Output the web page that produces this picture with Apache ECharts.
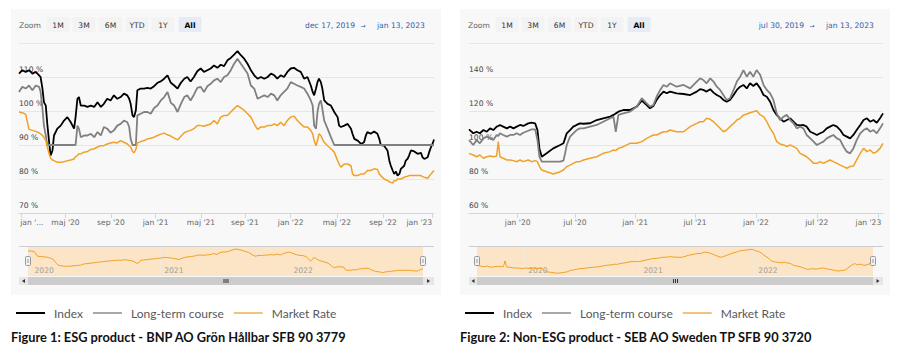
<!DOCTYPE html>
<html>
<head>
<meta charset="utf-8">
<title>ESG / Non-ESG</title>
<script src="https://cdn.jsdelivr.net/npm/echarts@6/dist/echarts.min.js"></script>
<style>
html, body { margin: 0; padding: 0; background: #fff; }
#chart { width: 900px; height: 353px; }
</style>
</head>
<body>
<div id="chart"></div>
<script>
// Figure 1 - BNP AO Grön Hållbar (x = days since 2019-12-17)
const esgDays = [8,17,26,35,44,53,62,66,71,75,80,84,89,93,98,102,111,120,129,138,147,156,160,165,169,174,183,192,201,210,219,228,236,245,254,263,272,281,290,299,304,308,313,317,322,326,335,344,353,362,371,380,389,398,407,416,425,434,443,452,460,469,478,487,496,505,514,523,532,541,550,559,
  568,577,586,595,604,613,622,631,640,649,658,667,676,685,694,702,711,720,729,738,747,756,765,774,783,792,797,801,806,810,814,819,823,828,837,846,855,864,868,873,882,891,900,904,909,918,927,935,940,944,953,962,971,976,980,989,998,1003,1007,1012,1016,1021,1025,1030,1034,1043,1047,1052,1056,1061,1070,1079,1088,1092,1097,1106,1110,1115,1119,1123];
const esgIndex = [111.0,112.0,111.5,112.0,111.0,111.5,110.5,110.0,106.6,102.6,
  101.6,96.2,90.8,86.9,88.4,92.8,94.8,95.7,97.2,98.2,
  96.7,94.8,98.2,103.6,104.1,101.6,101.6,101.2,101.6,101.2,
  102.6,101.2,102.1,103.6,103.1,104.6,103.6,104.1,105.1,104.6,
  103.6,102.1,98.7,98.2,100.2,106.1,106.6,106.6,106.8,106.6,
  107.3,108.3,108.7,109.5,110.5,108.3,107.5,106.6,108.3,109.5,
  110.0,108.7,110.0,111.7,112.5,111.5,112.0,112.5,113.4,112.7,
  113.6,113.2,
  114.9,115.6,116.6,117.6,116.4,115.4,113.9,112.0,110.5,109.5,
  110.0,109.5,110.0,111.0,110.5,109.5,110.5,110.0,111.5,112.5,
  112.7,112.0,111.5,109.5,110.0,107.5,105.6,104.6,106.6,108.5,
  109.5,108.5,106.6,103.1,102.1,101.6,99.7,98.2,95.7,95.3,
  95.7,96.2,94.8,93.3,91.8,91.3,90.3,90.8,92.8,93.8,
  93.3,94.0,93.3,91.8,90.0,89.8,88.4,85.4,83.9,82.5,
  81.5,82.2,81.0,81.5,83.0,83.9,85.4,85.9,86.9,88.4,
  88.1,87.4,87.7,86.4,85.9,86.4,87.9,89.4,90.3,91.6];
const esgLong = [105.6,107.1,106.6,107.5,106.1,107.5,107.1,105.6,100.7,95.7,
  92.8,90.0,90.0,90.0,90.0,90.0,90.0,90.0,90.0,90.0,
  90.0,90.0,90.0,95.7,94.8,92.3,92.8,92.8,93.3,92.3,
  93.8,92.8,95.3,94.8,93.6,94.3,95.7,96.2,97.2,96.7,
  95.3,91.8,90.0,90.0,90.0,98.7,99.2,99.7,99.7,99.2,
  100.9,101.6,103.1,104.1,105.6,102.4,101.6,99.7,102.1,104.1,
  104.6,103.1,104.8,106.8,107.1,105.6,107.3,108.0,109.0,109.5,
  108.5,110.0,
  110.5,112.0,113.9,115.4,113.9,112.5,111.0,107.5,106.6,103.6,
  104.1,104.6,104.1,105.1,104.6,103.1,104.6,105.6,106.6,108.5,
  108.0,107.5,107.1,106.6,105.1,103.1,101.6,95.7,94.8,99.7,
  102.1,103.1,100.7,97.2,94.8,92.3,90.0,90.0,90.0,90.0,
  90.0,90.0,90.0,90.0,90.0,90.0,90.0,90.0,90.0,90.0,
  90.0,90.0,90.0,90.0,90.0,90.0,90.0,90.0,90.0,90.0,
  90.0,90.0,90.0,90.0,90.0,90.0,90.0,90.0,90.0,90.0,
  90.0,90.0,90.0,90.0,90.0,90.0,90.0,90.0,90.0,90.0];
const esgMarket = [99.7,99.5,99.0,94.6,94.3,94.0,93.6,93.3,92.8,92.3,
  91.3,89.4,87.4,86.1,85.6,85.4,84.9,84.9,85.1,85.4,
  85.6,85.9,86.6,86.9,87.4,87.4,87.9,88.1,88.7,88.9,
  89.4,89.8,89.8,90.3,90.6,90.8,90.6,91.3,90.8,90.3,
  89.8,89.4,88.1,87.7,88.7,90.6,91.0,91.3,91.8,92.0,
  92.3,92.8,93.2,93.5,93.0,92.6,92.0,91.5,92.6,93.6,
  94.0,94.3,94.8,95.7,95.7,95.5,95.9,96.2,97.2,96.2,
  98.2,98.7,
  98.7,99.7,100.7,101.6,100.9,100.2,99.2,98.2,96.2,94.6,
  95.3,95.3,95.7,95.7,96.2,95.7,96.7,95.7,97.2,98.2,
  98.5,97.2,96.2,95.3,95.3,94.3,93.3,91.3,89.8,91.3,
  93.3,92.8,91.8,90.8,89.8,88.9,87.9,85.4,84.4,83.5,
  84.4,84.4,83.9,81.5,81.0,81.0,81.5,81.5,82.0,82.5,
  82.5,83.0,82.8,81.5,81.0,80.0,79.5,79.2,79.0,78.8,
  79.5,79.5,80.0,80.0,80.0,80.5,80.7,80.8,81.0,81.0,
  81.0,81.0,81.0,80.7,80.5,80.2,80.8,81.5,82.0,82.5];
const esgTickDays = [13,133,255,375,497,615,738,862,986,1117];
const esgTickLabels = ["jan '...", "maj '20", "sep '20", "jan '21", "maj '21", "sep '21", "jan '22", "maj '22", "sep '22", "jan '23"];
const esgYearDays = [15,381,746];
const esgYearLabels = ['2020','2021','2022'];

// Figure 2 - SEB AO Sweden TP (x = days since 2019-07-30)
const sebDays = [5,18,28,38,49,59,69,79,89,94,99,109,120,130,140,150,160,170,185,195,
  206,213,219,226,241,261,282,292,297,302,312,322,332,342,353,373,393,413,434,444,
  451,459,474,494,515,530,545,555,565,575,586,596,606,616,636,657,677,697,707,717,
  727,738,748,758,768,778,788,798,809,819,829,839,849,859,869,879,890,900,910,920,
  930,940,950,961,971,981,991,1001,1011,1021,1031,1042,1052,1062,1072,1082,1092,1102,1112,1123,
  1133,1143,1153,1163,1173,1183,1194,1204,1214,1224,1234,1244,1254,1263];
const sebIndex = [109.2,106.9,107.8,106.9,108.8,107.8,109.8,108.8,110.8,111.2,
  111.8,110.8,109.8,110.8,109.8,110.8,111.8,111.2,112.7,113.1,
  112.7,108.8,98.0,93.1,95.1,98.0,100.0,101.0,103.9,106.9,
  108.8,110.8,111.8,112.7,112.5,112.8,114.7,115.7,116.7,117.7,
  118.6,119.6,120.6,120.6,122.6,126.1,123.5,121.6,122.9,126.5,
  129.4,131.4,130.4,131.4,130.4,130.0,129.4,131.4,132.8,132.4,
  131.4,132.8,130.8,129.4,128.4,126.5,125.5,126.5,129.4,132.4,
  134.3,135.3,133.3,136.3,134.7,136.3,133.3,129.4,128.4,125.5,
  120.6,117.7,115.7,113.7,114.7,115.7,113.7,111.8,111.5,111.8,
  110.8,107.8,106.9,105.9,106.9,107.8,109.8,110.8,111.8,110.8,
  108.8,105.9,104.9,103.9,105.9,108.8,111.8,114.7,115.7,113.7,
  114.7,113.1,115.7,118.6];
const sebLong = [102.9,100.0,102.9,101.0,103.9,104.9,103.9,102.9,105.9,105.3,
  106.9,105.9,104.9,105.9,105.9,106.9,105.9,107.2,108.4,109.2,
  109.2,102.9,93.1,90.2,90.2,90.2,90.2,90.8,95.1,100.0,
  104.9,106.9,108.8,109.8,109.8,110.8,111.8,113.7,115.7,116.7,
  107.8,117.7,118.6,119.6,122.6,127.5,124.5,122.6,123.5,128.4,
  132.4,135.3,134.3,136.3,134.3,135.3,133.3,137.3,139.2,138.2,
  136.3,139.2,137.3,134.3,132.4,129.4,126.5,127.5,132.4,137.3,
  140.2,144.1,140.2,143.1,140.2,144.1,141.2,135.3,132.4,130.4,
  126.5,118.6,114.7,116.7,117.7,114.7,112.8,109.8,110.8,109.8,
  105.9,103.9,102.0,100.0,101.0,102.0,103.9,104.9,105.9,103.9,
  102.9,99.0,96.1,95.1,98.0,102.9,106.9,108.8,109.8,107.8,
  108.8,106.9,109.8,112.7];
const sebMarket = [95.1,94.1,93.1,94.1,92.2,93.1,93.5,93.1,93.5,102.0,
  93.1,92.2,91.2,91.2,90.8,90.2,91.2,90.2,91.2,90.2,
  90.8,90.2,87.3,85.3,84.3,82.9,84.3,85.3,86.3,87.3,
  88.2,89.2,90.2,90.2,91.2,92.2,93.1,95.1,96.1,97.1,
  96.7,98.0,99.0,101.0,101.0,102.0,103.9,104.9,105.9,105.9,
  106.9,107.8,107.8,108.8,107.8,107.8,110.8,112.7,113.7,113.7,
  115.7,115.1,113.7,111.8,109.8,107.8,108.8,110.8,112.7,114.7,
  115.7,117.7,118.2,119.0,119.6,120.2,117.7,116.7,113.7,109.8,
  106.9,102.0,100.6,100.0,99.0,100.0,99.0,98.0,95.1,94.1,
  93.1,91.2,89.2,89.2,90.2,89.2,90.2,91.2,90.2,89.2,
  88.2,87.3,86.3,87.3,87.6,91.2,95.1,98.0,96.1,97.1,
  95.1,96.1,98.0,101.0];
const sebTickDays = [153,327,510,692,877,1062,1249];
const sebTickLabels = ["jan '20", "jul '20", "jan '21", "jul '21", "jan '22", "jul '22", "jan '23"];
const sebYearDays = [155,521,886];
const sebYearLabels = ['2020','2021','2022'];

const seriesNames = ['Index', 'Long-term course', 'Market Rate'];
const buttonLabels = ['1M', '3M', '6M', 'YTD', '1Y', 'All'];

// styles
const SMALL_FONT = 'DejaVu Sans';
const TEXT_FONT = 'Lato';
const ORANGE = '#f0a126';
const GRAY = '#808080';
const MASK = '#fbe5c6';

// panel layout
const esgPanel = { left: 11, plotLeft: 19, plotWidth: 415, navLeft: 28, navWidth: 395 };
const sebPanel = { left: 460, plotLeft: 469, plotWidth: 414, navLeft: 477, navWidth: 396 };

const chart = echarts.init(document.getElementById('chart'), null, { renderer: 'svg' });

function pairs(xs, ys) {
    return xs.map((x, i) => [x, ys[i]]);
}

// main x axis with month ticks
function mainXAxis(gridIndex, min, max, ticks, labels, firstPad, lastPad) {
    return {
        type: 'value', gridIndex, min, max,
        axisLine: { show: true, onZero: false, lineStyle: { color: '#ccd6eb', width: 1 } },
        axisTick: { show: true, customValues: ticks, length: 5, lineStyle: { color: '#ccd6eb' } },
        axisLabel: {
            customValues: ticks, margin: 5, color: '#666', fontSize: 7.6, fontFamily: SMALL_FONT,
            formatter: (v) => {
                const i = ticks.indexOf(v);
                if (i === 0 && firstPad) return '{first|' + labels[i] + '}';
                if (i === ticks.length - 1 && lastPad) return '{last|' + labels[i] + '}';
                return labels[i];
            },
            rich: {
                first: { padding: [0, 0, 0, firstPad], color: '#666', fontSize: 7.6, fontFamily: SMALL_FONT },
                last: { padding: [0, lastPad, 0, 0], color: '#666', fontSize: 7.6, fontFamily: SMALL_FONT }
            }
        },
        splitLine: { show: false }
    };
}

function mainYAxis(gridIndex, min, max, interval) {
    return {
        type: 'value', gridIndex, min, max, interval,
        axisLine: { show: false }, axisTick: { show: false },
        axisLabel: {
            inside: true, margin: 0, formatter: '{value} %', color: '#444', fontSize: 7.6,
            fontFamily: SMALL_FONT, verticalAlign: 'bottom', padding: [0, 0, 4, 0], showMaxLabel: false
        },
        splitLine: { show: true, lineStyle: { color: '#e6e6e6', width: 1 } }
    };
}

// navigator x axis with year lines
function navXAxis(gridIndex, min, max, years, labels) {
    return {
        type: 'value', gridIndex, min, max,
        axisLine: { show: false },
        axisTick: { show: false, customValues: years },
        axisLabel: {
            customValues: years, inside: true, margin: 2, align: 'left', padding: [0, 0, 0, 4],
            color: '#a0a0a0', fontSize: 7.6, fontFamily: SMALL_FONT,
            formatter: (v) => labels[years.indexOf(v)]
        },
        splitLine: { show: true, lineStyle: { color: '#f3e9da', width: 1 } }
    };
}

function lineSeries(name, xi, data, color, width) {
    return {
        name, type: 'line', xAxisIndex: xi, yAxisIndex: xi, data,
        symbol: 'none', showSymbol: false, animation: false,
        lineStyle: { color, width }, itemStyle: { color },
        emphasis: { disabled: true }
    };
}

function text(x, y, str, opts) {
    return {
        type: 'text', silent: true, z: 10,
        style: Object.assign({
            text: str, x, y, fill: '#333', fontSize: 7.6, fontFamily: SMALL_FONT,
            textAlign: 'left', textVerticalAlign: 'middle', align: 'left', verticalAlign: 'middle'
        }, opts || {})
    };
}

// box, zoom buttons, date range, navigator frame, scrollbar, caption
function panelGraphics(p, fromText, toText, caption) {
    const els = [];
    const L = p.left;
    els.push({ type: 'rect', silent: true, z: -1, shape: { x: L, y: 9, width: 430, height: 286 }, style: { fill: '#f8f8f8' } });

    els.push(text(L + 8, 25, 'Zoom', { fill: '#666' }));
    const centers = [47, 73, 99.5, 126, 152, 179];
    buttonLabels.forEach((b, i) => {
        const sel = b === 'All';
        els.push({ type: 'rect', silent: true, z: 5, shape: { x: L + centers[i] - 11.5, y: 17, width: 23, height: 15, r: 1 },
            style: { fill: sel ? '#e6ebf5' : '#f3f3f3' } });
        els.push(text(L + centers[i], 25, b, { textAlign: 'center', align: 'center', fill: sel ? '#000' : '#333', fontWeight: sel ? 'bold' : 'normal' }));
    });
    els.push(text(L + 344, 25, fromText, { textAlign: 'right', align: 'right', fill: '#335cad' }));
    els.push(text(L + 352, 25, '→', { textAlign: 'center', align: 'center', fill: '#335cad', fontSize: 6 }));
    els.push(text(L + 366, 25, toText, { fill: '#335cad' }));

    // navigator frame and handles
    const navR = p.navLeft + p.navWidth;
    const plotR = p.plotLeft + p.plotWidth;
    els.push({ type: 'line', silent: true, z: 5, shape: { x1: p.plotLeft, y1: 246.5, x2: plotR, y2: 246.5 }, style: { stroke: '#cccccc', lineWidth: 1 } });
    [p.navLeft, navR].forEach((hx) => {
        els.push({ type: 'rect', silent: true, z: 12, shape: { x: hx - 2.5, y: 256.5, width: 5, height: 9, r: 1 }, style: { fill: '#f2f2f2', stroke: '#999', lineWidth: 1 } });
        els.push({ type: 'line', silent: true, z: 13, shape: { x1: hx, y1: 259, x2: hx, y2: 263 }, style: { stroke: '#999', lineWidth: 1 } });
    });

    // scrollbar
    els.push({ type: 'rect', silent: true, z: 5, shape: { x: p.plotLeft, y: 277, width: p.plotWidth, height: 8 }, style: { fill: '#f2f2f2' } });
    els.push({ type: 'rect', silent: true, z: 6, shape: { x: p.plotLeft, y: 277, width: p.navLeft - p.plotLeft, height: 8 }, style: { fill: '#e6e6e6' } });
    els.push({ type: 'rect', silent: true, z: 6, shape: { x: navR, y: 277, width: plotR - navR, height: 8 }, style: { fill: '#e6e6e6' } });
    els.push({ type: 'rect', silent: true, z: 6, shape: { x: p.navLeft, y: 277, width: p.navWidth, height: 8 }, style: { fill: '#cccccc' } });
    const lc = (p.plotLeft + p.navLeft) / 2;
    const rc = (navR + plotR) / 2;
    els.push({ type: 'polygon', silent: true, z: 7, shape: { points: [[lc - 1.5, 281], [lc + 1.5, 279], [lc + 1.5, 283]] }, style: { fill: '#333' } });
    els.push({ type: 'polygon', silent: true, z: 7, shape: { points: [[rc + 1.5, 281], [rc - 1.5, 279], [rc - 1.5, 283]] }, style: { fill: '#333' } });
    const gc = p.navLeft + p.navWidth / 2;
    [-2, 0, 2].forEach((d) => {
        els.push({ type: 'line', silent: true, z: 7, shape: { x1: gc + d + 0.5, y1: 279, x2: gc + d + 0.5, y2: 283 }, style: { stroke: '#333', lineWidth: 1 } });
    });

    // caption
    els.push(text(L, 337, caption, { fill: '#111', fontSize: 12.8, fontFamily: TEXT_FONT, fontWeight: 'bold' }));
    return els;
}

function legendFor(left) {
    return {
        left, top: 302, icon: 'rect', itemWidth: 29, itemHeight: 2, itemGap: 10,
        selectedMode: false,
        itemStyle: { borderWidth: 0 },
        textStyle: { fontFamily: TEXT_FONT, fontSize: 12, color: '#595959', padding: [0, 0, 0, 4] },
        data: [
            { name: seriesNames[0], itemStyle: { color: '#000000' } },
            { name: seriesNames[1], itemStyle: { color: '#a8a8a8' } },
            { name: seriesNames[2], itemStyle: { color: '#f3c27d' } }
        ]
    };
}

const option = {
    animation: false,
    backgroundColor: '#ffffff',
    grid: [
        { left: esgPanel.plotLeft, top: 43, width: esgPanel.plotWidth, height: 170 },
        { left: esgPanel.navLeft, top: 247, width: esgPanel.navWidth, height: 29, show: true, backgroundColor: MASK, borderWidth: 0 },
        { left: sebPanel.plotLeft, top: 43, width: sebPanel.plotWidth, height: 170 },
        { left: sebPanel.navLeft, top: 247, width: sebPanel.navWidth, height: 29, show: true, backgroundColor: MASK, borderWidth: 0 }
    ],
    xAxis: [
        mainXAxis(0, 8, 1123, esgTickDays, esgTickLabels, 22, 25),
        navXAxis(1, 8, 1123, esgYearDays, esgYearLabels),
        mainXAxis(2, 5, 1263, sebTickDays, sebTickLabels, 0, 20),
        navXAxis(3, 5, 1263, sebYearDays, sebYearLabels)
    ],
    yAxis: [
        mainYAxis(0, 70, 120, 10),
        { type: 'value', gridIndex: 1, min: 75.5, max: 103.5, show: false, splitLine: { show: false } },
        mainYAxis(2, 60, 160, 20),
        { type: 'value', gridIndex: 3, min: 78.7, max: 123.7, show: false, splitLine: { show: false } }
    ],
    legend: [legendFor(esgPanel.left), legendFor(sebPanel.left)],
    series: [
        lineSeries('Index', 0, pairs(esgDays, esgIndex), '#000000', 1.8),
        lineSeries('Long-term course', 0, pairs(esgDays, esgLong), GRAY, 1.8),
        lineSeries('Market Rate', 0, pairs(esgDays, esgMarket), ORANGE, 1.5),
        lineSeries('nav-esg', 1, pairs(esgDays, esgMarket), ORANGE, 1),
        lineSeries('Index', 2, pairs(sebDays, sebIndex), '#000000', 1.8),
        lineSeries('Long-term course', 2, pairs(sebDays, sebLong), GRAY, 1.8),
        lineSeries('Market Rate', 2, pairs(sebDays, sebMarket), ORANGE, 1.5),
        lineSeries('nav-seb', 3, pairs(sebDays, sebMarket), ORANGE, 1)
    ],
    graphic: [
        ...panelGraphics(esgPanel, 'dec 17, 2019', 'jan 13, 2023', 'Figure 1: ESG product - BNP AO Grön Hållbar SFB 90 3779'),
        ...panelGraphics(sebPanel, 'jul 30, 2019', 'jan 13, 2023', 'Figure 2: Non-ESG product - SEB AO Sweden TP SFB 90 3720')
    ]
};

chart.setOption(option);
</script>
</body>
</html>
